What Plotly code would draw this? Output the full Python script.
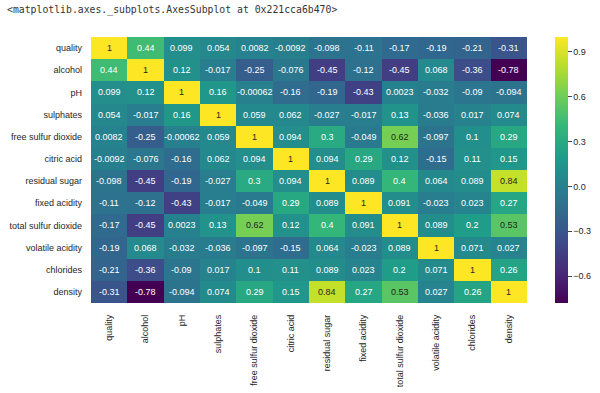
import plotly.graph_objects as go

labels = ["quality", "alcohol", "pH", "sulphates", "free sulfur dioxide", "citric acid",
          "residual sugar", "fixed acidity", "total sulfur dioxide", "volatile acidity",
          "chlorides", "density"]

r_quality = [1, 0.44, 0.099, 0.054, 0.0082, -0.0092, -0.098, -0.11, -0.17, -0.19, -0.21, -0.31]
r_alcohol = [0.44, 1, 0.12, -0.017, -0.25, -0.076, -0.45, -0.12, -0.45, 0.068, -0.36, -0.78]
r_ph = [0.099, 0.12, 1, 0.16, -0.00062, -0.16, -0.19, -0.43, 0.0023, -0.032, -0.09, -0.094]
r_sulphates = [0.054, -0.017, 0.16, 1, 0.059, 0.062, -0.027, -0.017, 0.13, -0.036, 0.017, 0.074]
r_free_so2 = [0.0082, -0.25, -0.00062, 0.059, 1, 0.094, 0.3, -0.049, 0.62, -0.097, 0.1, 0.29]
r_citric = [-0.0092, -0.076, -0.16, 0.062, 0.094, 1, 0.094, 0.29, 0.12, -0.15, 0.11, 0.15]
r_sugar = [-0.098, -0.45, -0.19, -0.027, 0.3, 0.094, 1, 0.089, 0.4, 0.064, 0.089, 0.84]
r_fixed = [-0.11, -0.12, -0.43, -0.017, -0.049, 0.29, 0.089, 1, 0.091, -0.023, 0.023, 0.27]
r_total_so2 = [-0.17, -0.45, 0.0023, 0.13, 0.62, 0.12, 0.4, 0.091, 1, 0.089, 0.2, 0.53]
r_volatile = [-0.19, 0.068, -0.032, -0.036, -0.097, -0.15, 0.064, -0.023, 0.089, 1, 0.071, 0.027]
r_chlorides = [-0.21, -0.36, -0.09, 0.017, 0.1, 0.11, 0.089, 0.023, 0.2, 0.071, 1, 0.26]
r_density = [-0.31, -0.78, -0.094, 0.074, 0.29, 0.15, 0.84, 0.27, 0.53, 0.027, 0.26, 1]

z = [r_quality, r_alcohol, r_ph, r_sulphates, r_free_so2, r_citric, r_sugar,
     r_fixed, r_total_so2, r_volatile, r_chlorides, r_density]

cbar_ticks = [-0.6, -0.3, 0.0, 0.3, 0.6, 0.9]

zmin = min(min(r) for r in z)
zmax = max(max(r) for r in z)

FONT = "Liberation Sans, Arial"

fig = go.Figure(go.Heatmap(
    z=z, x=labels, y=labels,
    colorscale="Viridis", zmin=zmin, zmax=zmax,
    xgap=0, ygap=0,
    colorbar=dict(
        x=1.064, xanchor="left", xref="paper", xpad=0, ypad=0,
        y=0, yanchor="bottom", len=1, lenmode="fraction",
        thickness=13, outlinewidth=0,
        tickvals=cbar_ticks, ticktext=[f"{v:.1f}".replace("-", "\u2212") for v in cbar_ticks],
        ticks="outside", ticklen=4, tickcolor="#444",
        tickfont=dict(family=FONT, size=9, color="#262626"),
    ),
    hoverinfo="skip",
))

annotations = []
for i, row in enumerate(z):
    for j, v in enumerate(row):
        txt = format(v, ".2g")
        col = "#262626" if v > 0.5 else "white"
        annotations.append(dict(
            x=labels[j], y=labels[i], xref="x", yref="y", text=txt,
            showarrow=False, font=dict(family=FONT, size=9, color=col),
        ))

annotations.append(dict(
    x=-0.197, y=1.1015, xref="paper", yref="paper", xanchor="left", yanchor="middle",
    text="&lt;matplotlib.axes._subplots.AxesSubplot at 0x221cca6b470&gt;",
    showarrow=False, font=dict(family="DejaVu Sans Mono", size=9.8, color="#333"),
))

fig.update_layout(
    width=600, height=393,
    margin=dict(l=91, r=73, t=37, b=90, autoexpand=False),
    paper_bgcolor="white", plot_bgcolor="white",
    annotations=annotations,
    xaxis=dict(tickangle=-90, showgrid=False, zeroline=False, ticks="", ticklabelstandoff=9,
               automargin=False,
               tickfont=dict(family=FONT, size=9, color="#262626")),
    yaxis=dict(autorange="reversed", showgrid=False, zeroline=False, ticks="", ticklabelstandoff=8,
               automargin=False,
               tickfont=dict(family=FONT, size=9, color="#262626")),
    font=dict(family=FONT),
)

fig.write_html("out.html", config={"displayModeBar": False},
               post_script="document.body.style.margin='0px';")
